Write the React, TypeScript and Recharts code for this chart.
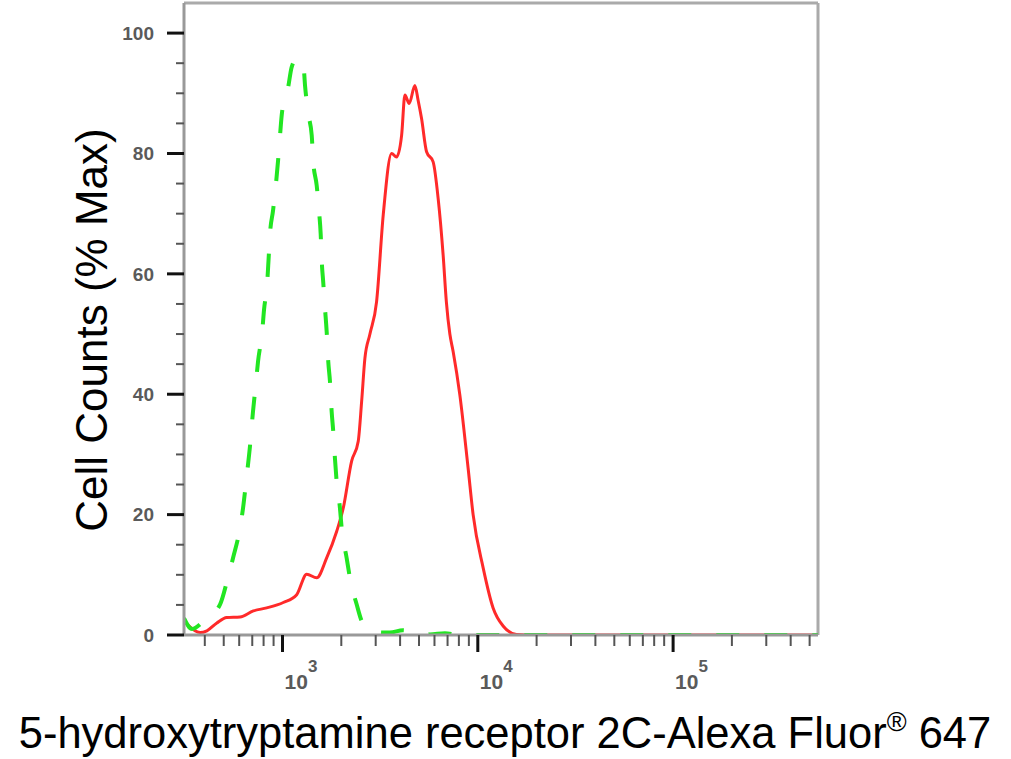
import React from 'react';
import { LineChart, Line, XAxis, YAxis, ReferenceLine } from 'recharts';

// Sample (red, solid) histogram: fluorescence intensity -> % max
const RED_X = [313, 324, 378, 410, 461, 518, 606, 709, 830, 1009, 1182, 1330, 1496, 1683, 1893, 2047, 2259, 2442, 2542, 2642, 2803, 3032, 3279, 3619, 3838, 4072, 4233, 4453, 4762, 4949, 5152, 5465, 5906, 6266, 6645, 6900, 7192, 7476, 8090, 8921, 9462, 10644, 11975, 13474, 15776, 20000, 50000, 150000, 552000];
const RED_Y = [2.3, 1.8, 0.4, 0.7, 2.0, 2.9, 3.0, 4.0, 4.5, 5.4, 6.7, 10.1, 9.5, 12.8, 17.2, 21.1, 28.9, 32.2, 38.8, 46.0, 50.0, 55.4, 69.8, 80.0, 79.4, 83.0, 89.7, 88.3, 91.3, 88.8, 85.8, 80.3, 78.6, 72.5, 63.1, 55.4, 50.0, 47.1, 39.9, 27.7, 20.0, 11.2, 4.5, 1.5, 0.1, 0, 0, 0, 0];

// Isotype control (green, dashed)
const GREEN_X = [313, 344, 392, 479, 525, 558, 606, 628, 654, 682, 706, 732, 749, 787, 804, 834, 848, 863, 894, 926, 950, 971, 994, 1066, 1115, 1186, 1278, 1304, 1355, 1411, 1437, 1496, 1542, 1568, 1587, 1617, 1650, 1683, 1715, 1750, 1785, 1819, 1855, 1893, 1968, 2008, 2130, 2214, 2396, 2590, 2973, 3548, 4135, 4762, 5683, 6781, 8090, 12962, 30000, 100000, 552000];
const GREEN_Y = [2.8, 1.0, 2.2, 5.1, 9.5, 12.8, 17.8, 21.1, 26.1, 31.5, 37.1, 42.1, 45.4, 50.4, 54.0, 58.4, 62.3, 66.7, 70.5, 75.0, 79.0, 83.0, 86.8, 90.8, 94.4, 95.8, 94.9, 91.3, 86.6, 83.0, 78.6, 74.7, 70.0, 66.7, 62.3, 58.5, 54.3, 50.4, 45.4, 42.1, 37.1, 33.8, 29.4, 25.5, 21.1, 17.8, 12.8, 9.5, 5.1, 1.8, 0.5, 0.4, 0.8, 0.4, 0.1, 0.3, 0, 0, 0, 0, 0];

const X_TICKS = [400, 500, 600, 700, 800, 900, 1000, 2000, 3000, 4000, 5000, 6000, 7000, 8000, 9000, 10000, 20000, 30000, 40000, 50000, 60000, 70000, 80000, 90000, 100000, 200000, 300000, 400000, 500000];
const X_MAJOR = [1000, 10000, 100000];
const X_EXP = ['3', '4', '5'];
const Y_TICKS = [0, 5, 10, 15, 20, 25, 30, 35, 40, 45, 50, 55, 60, 65, 70, 75, 80, 85, 90, 95, 100];
const Y_LABELED = [0, 20, 40, 60, 80, 100];

const X_DOMAIN: [number, number] = [313, 552000];
const Y_DOMAIN: [number, number] = [0, 105];

const redData = RED_X.map((x, i) => ({ x, y: RED_Y[i] }));
const greenData = GREEN_X.map((x, i) => ({ x, y: GREEN_Y[i] }));

const FONT = 'Liberation Sans, Arial, Helvetica, sans-serif';

const XTick = (props: any) => {
  const { x, y, payload } = props;
  const v = payload.value;
  const idx = X_MAJOR.indexOf(v);
  if (idx >= 0) {
    return (
      <g>
        <line x1={x} y1={y} x2={x} y2={y + 17} stroke="#111" strokeWidth={3} />
        <text x={x + 2} y={y + 54} fontSize={21} fontWeight="bold" fill="#5a5a5a" fontFamily={FONT}>
          10<tspan dy={-17} fontSize={17}>{X_EXP[idx]}</tspan>
        </text>
      </g>
    );
  }
  return <line x1={x} y1={y} x2={x} y2={y + 11} stroke="#555" strokeWidth={2} />;
};

const YTick = (props: any) => {
  const { x, y, payload } = props;
  const v = payload.value;
  if (Y_LABELED.indexOf(v) >= 0) {
    return (
      <g>
        <line x1={x - 17} y1={y} x2={x} y2={y} stroke="#111" strokeWidth={3} />
        <text x={x - 30} y={y} dy="0.36em" textAnchor="end" fontSize={19} fontWeight="bold" fill="#5a5a5a" fontFamily={FONT}>
          {v}
        </text>
      </g>
    );
  }
  return <line x1={x - 8} y1={y} x2={x} y2={y} stroke="#555" strokeWidth={2} />;
};

const YTitle = () => (
  <text
    x={107}
    y={330}
    transform="rotate(-90, 107, 330)"
    textAnchor="middle"
    fontSize={44}
    fill="#000"
    fontFamily={FONT}
  >
    Cell Counts (% Max)
  </text>
);

const XTitle = () => (
  <text x={505} y={748} textAnchor="middle" fontSize={43.5} fill="#000" fontFamily={FONT}>
    5-hydroxytryptamine receptor 2C-Alexa Fluor
    <tspan fontSize={27} dy={-17}>®</tspan>
    <tspan fontSize={43.5} dy={17}> 647</tspan>
  </text>
);

export default function App() {
  return (
    <div style={{ position: 'absolute', left: 0, top: 0, width: 1011, height: 759, background: '#fff' }}>
      <LineChart width={1011} height={759} margin={{ top: 3, right: 193, bottom: 0, left: 0 }}>
        <XAxis
          dataKey="x"
          type="number"
          scale="log"
          domain={X_DOMAIN}
          allowDataOverflow
          ticks={X_TICKS}
          interval={0}
          tick={<XTick />}
          tickLine={false}
          tickSize={0}
          tickMargin={0}
          height={124}
          axisLine={{ stroke: '#999', strokeWidth: 3 }}
          label={<XTitle />}
        />
        <YAxis
          dataKey="y"
          type="number"
          domain={Y_DOMAIN}
          allowDataOverflow
          ticks={Y_TICKS}
          interval={0}
          tick={<YTick />}
          tickLine={false}
          tickSize={0}
          tickMargin={0}
          width={184}
          axisLine={{ stroke: '#999', strokeWidth: 3 }}
          label={<YTitle />}
        />
        <ReferenceLine y={105} stroke="#aaa" strokeWidth={3} />
        <ReferenceLine x={552000} stroke="#aaa" strokeWidth={3} />
        <Line
          data={redData}
          dataKey="y"
          type="monotone"
          stroke="#ff2a2a"
          strokeWidth={3}
          dot={false}
          isAnimationActive={false}
        />
        <Line
          data={greenData}
          dataKey="y"
          type="monotone"
          stroke="#22e622"
          strokeWidth={4}
          strokeDasharray="23 25"
          dot={false}
          isAnimationActive={false}
        />
      </LineChart>
    </div>
  );
}
